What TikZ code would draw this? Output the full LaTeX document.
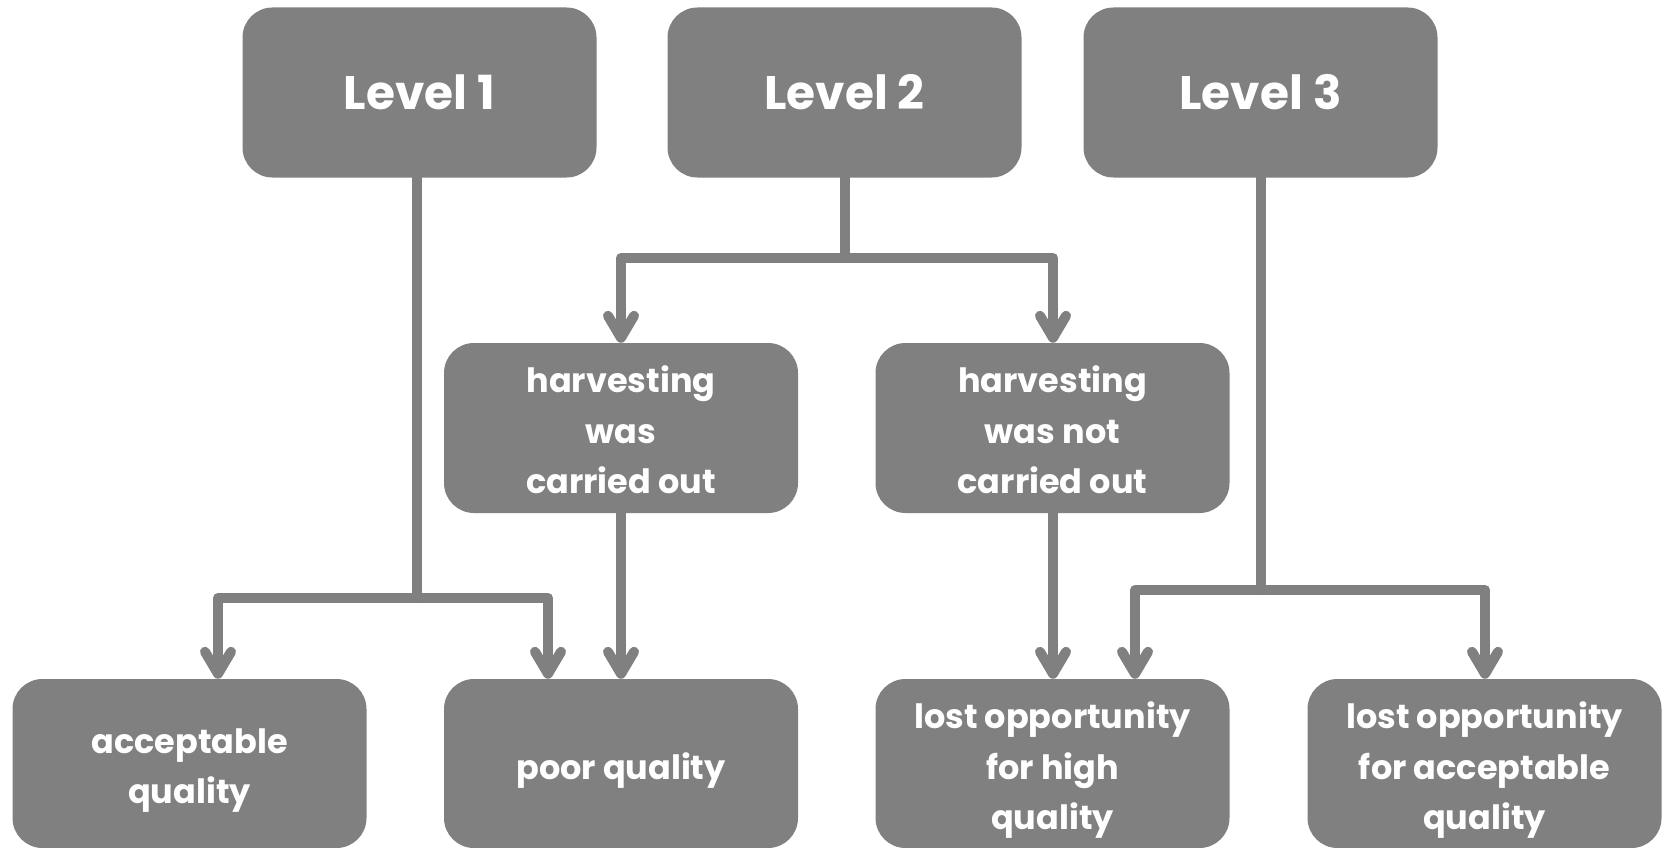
\documentclass[tikz,border=0pt]{standalone}
\usepackage{fontspec}
\setmainfont{Poppins}
\usetikzlibrary{arrows.meta}
\definecolor{boxgray}{HTML}{808080}
\tikzset{
 box/.style={fill=boxgray, rounded corners=30pt, inner sep=0pt, minimum width=354pt, minimum height=170pt},
 txt/.style={text=white, font=\bfseries\fontsize{33.5}{50.5}\selectfont, align=center, inner sep=0pt},
 lvl/.style={box, text=white, font=\bfseries\fontsize{47}{51}\selectfont},
 link/.style={draw=boxgray, line width=10pt, line join=round, line cap=round},
 arr/.style={link, -{Straight Barb[length=22pt,width=26pt,line cap=round,line join=round]}}
}
\begin{document}
\begin{tikzpicture}[x=1pt,y=-1pt]
\useasboundingbox (0,0) rectangle (1664,848);
% top row
\node[lvl] (L1) at (419.5,92.5) {Level 1};
\node[lvl] (L2) at (844.5,92.5) {Level 2};
\node[lvl] (L3) at (1260.5,92.5) {Level 3};
% middle row
\node[box] (hc) at (621,428) {};
\node[box] (hn) at (1052.5,428) {};
\node[txt] (hc-t) at ([yshift=-2pt]hc.center) {harvesting\\was\\carried out};
\node[txt] (hn-t) at ([yshift=-2pt]hn.center) {harvesting\\was not\\carried out};
% bottom row
\node[box, minimum height=169pt] (acc) at (189.5,763.5) {};
\node[box, minimum height=169pt] (poor) at (621,763.5) {};
\node[box, minimum height=169pt] (high) at (1052.5,763.5) {};
\node[box, minimum height=169pt] (accq) at (1484.5,763.5) {};
\node[txt] (acc-t) at ([yshift=-7pt]acc.center) {acceptable\\quality};
\node[txt] (poor-t) at ([yshift=-7pt]poor.center) {poor quality};
\node[txt] (high-t) at ([yshift=-7pt]high.center) {lost opportunity\\for high\\quality};
\node[txt] (accq-t) at ([yshift=-7pt]accq.center) {lost opportunity\\for acceptable\\quality};
% junctions
\coordinate (j1) at (417,598);
\coordinate (j1a) at (218,598);
\coordinate (j1b) at (548,598);
\coordinate (j2) at (845,258);
\coordinate (j2a) at (621,258);
\coordinate (j2b) at (1053,258);
\coordinate (j3) at (1261,590);
\coordinate (j3a) at (1135,590);
\coordinate (j3b) at (1485,590);
% Level 1
\draw[link] (L1.south -| j1) -- (j1);
\draw[arr] (j1) -- (j1a) -- (acc.north -| j1a);
\draw[arr] (j1) -- (j1b) -- (poor.north -| j1b);
% Level 2
\draw[link] (L2.south -| j2) -- (j2);
\draw[arr] (j2) -- (j2a) -- (hc.north);
\draw[arr] (j2) -- (j2b) -- (hn.north -| j2b);
% middle to bottom
\draw[arr] (hc.south) -- (poor.north);
\draw[arr] (hn.south -| j2b) -- (high.north -| j2b);
% Level 3
\draw[link] (L3.south -| j3) -- (j3);
\draw[arr] (j3) -- (j3a) -- (high.north -| j3a);
\draw[arr] (j3) -- (j3b) -- (accq.north -| j3b);
\end{tikzpicture}
\end{document}
